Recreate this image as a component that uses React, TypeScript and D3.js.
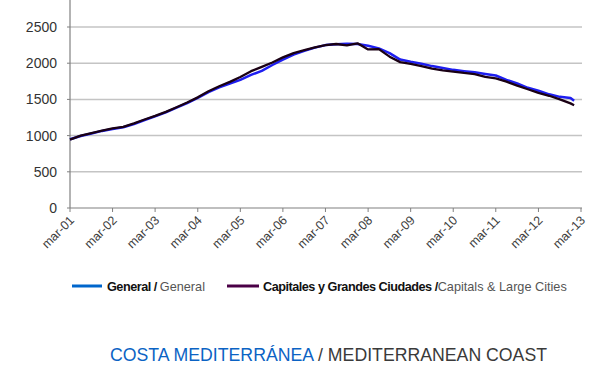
import React from "react";
import * as d3 from "d3";

// quarterly readings
const dates = [
  "2001-03", "2001-06", "2001-09", "2001-12",
  "2002-03", "2002-06", "2002-09", "2002-12",
  "2003-03", "2003-06", "2003-09", "2003-12",
  "2004-03", "2004-06", "2004-09", "2004-12",
  "2005-03", "2005-06", "2005-09", "2005-12",
  "2006-03", "2006-06", "2006-09", "2006-12",
  "2007-03", "2007-06", "2007-09", "2007-12",
  "2008-03", "2008-06", "2008-09", "2008-12",
  "2009-03", "2009-06", "2009-09", "2009-12",
  "2010-03", "2010-06", "2010-09", "2010-12",
  "2011-03", "2011-06", "2011-09", "2011-12",
  "2012-03", "2012-06", "2012-09", "2012-12", "2013-01",
];

const general = [
  950, 995, 1030, 1065,
  1090, 1115, 1160, 1215,
  1265, 1320, 1385, 1450,
  1520, 1600, 1665, 1720,
  1770, 1838, 1895, 1975,
  2050, 2120, 2170, 2215,
  2250, 2262, 2268, 2265,
  2240, 2205, 2140, 2050,
  2020, 1993, 1960, 1935,
  1908, 1890, 1875, 1852,
  1830, 1770, 1720, 1660,
  1620, 1570, 1535, 1520, 1480,
];

const capitales = [
  945, 1000, 1035, 1068,
  1100, 1120, 1168, 1222,
  1272, 1328, 1392, 1458,
  1528, 1612, 1682, 1742,
  1810, 1890, 1950, 2010,
  2080, 2140, 2180, 2220,
  2250, 2265, 2245, 2275,
  2190, 2195, 2090, 2015,
  1990, 1960, 1925, 1900,
  1885, 1865, 1850, 1810,
  1790, 1745, 1690, 1640,
  1590, 1550, 1500, 1445, 1420,
];

const yTicks = [0, 500, 1000, 1500, 2000, 2500];
const xTickLabels = [
  "mar-01", "mar-02", "mar-03", "mar-04", "mar-05", "mar-06", "mar-07",
  "mar-08", "mar-09", "mar-10", "mar-11", "mar-12", "mar-13",
];

const parse = d3.timeParse("%Y-%m");

const x = d3.scaleTime()
  .domain([parse("2001-03")!, parse("2013-03")!])
  .range([70, 581]);

const y = d3.scaleLinear().domain([0, 2500]).range([208, 27]);

const line = d3.line<number>()
  .x((d, i) => x(parse(dates[i])!))
  .y((d) => y(d));

const font = "'Liberation Sans', Arial, sans-serif";

export default function App() {
  const xTicks = xTickLabels.map((lbl, i) => ({
    lbl,
    pos: x(d3.timeYear.offset(parse("2001-03")!, i)),
  }));

  return (
    <svg
      width={598}
      height={371}
      style={{ position: "absolute", left: 0, top: 0, background: "#fff" }}
      fontFamily={font}
    >
      {/* grid */}
      {yTicks.slice(1).map((t) => (
        <line key={t} x1={70} x2={582} y1={y(t)} y2={y(t)} stroke="#c4c4c4" strokeWidth={1.5} />
      ))}
      {/* axes */}
      <line x1={70} x2={70} y1={0} y2={208} stroke="#808080" strokeWidth={1.2} />
      <line x1={70} x2={582} y1={208} y2={208} stroke="#808080" strokeWidth={1.2} />
      {yTicks.map((t) => (
        <g key={t}>
          <line x1={67} x2={70} y1={y(t)} y2={y(t)} stroke="#808080" />
          <text x={57} y={y(t)} dy="0.35em" textAnchor="end" fontSize={14} fill="#333">
            {t}
          </text>
        </g>
      ))}
      {xTicks.map((t) => (
        <g key={t.lbl}>
          <line x1={t.pos} x2={t.pos} y1={208} y2={212} stroke="#808080" />
          <text
            transform={`translate(${t.pos + 5},${221}) rotate(-45)`}
            textAnchor="end"
            fontSize={12.5}
            fill="#404040"
          >
            {t.lbl}
          </text>
        </g>
      ))}

      {/* series */}
      <path d={line(general) ?? ""} fill="none" stroke="#1e1ef0" strokeWidth={2.5} strokeLinejoin="round" />
      <path d={line(capitales) ?? ""} fill="none" stroke="#1a0014" strokeWidth={2.3} strokeLinejoin="round" />

      {/* legend */}
      <line x1={72} x2={102} y1={286} y2={286} stroke="#0066cc" strokeWidth={3} />
      <text x={107} y={290.5} fontSize={12.7} fill="#111">
        <tspan fontWeight="bold" letterSpacing={-0.5}>General / </tspan>
        <tspan fill="#555">General</tspan>
      </text>
      <line x1={227} x2={259} y1={286} y2={286} stroke="#4a0046" strokeWidth={3} />
      <text x={263} y={290.5} fontSize={12.7} fill="#111">
        <tspan fontWeight="bold" letterSpacing={-0.5}>Capitales y Grandes Ciudades /</tspan>
        <tspan fill="#555">Capitals &amp; Large Cities</tspan>
      </text>

      {/* title */}
      <text x={110} y={361} fontSize={17.7}>
        <tspan fill="#0b63c4">COSTA MEDITERRÁNEA</tspan>
        <tspan fill="#3a3a3a"> / MEDITERRANEAN COAST</tspan>
      </text>
    </svg>
  );
}
